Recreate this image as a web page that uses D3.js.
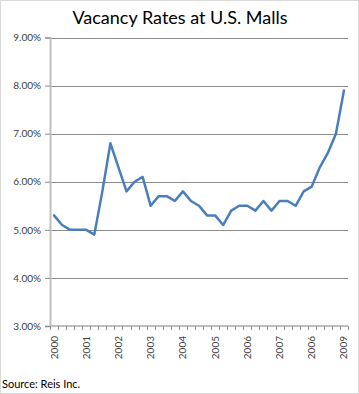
<!DOCTYPE html>
<html><head><meta charset="utf-8">
<script src="https://cdn.jsdelivr.net/npm/d3@7"></script>
<style>
html,body{margin:0;padding:0;background:#fff;}
svg{display:block;}
text{font-family:"Lato","Open Sans",sans-serif;}
</style></head>
<body>
<div id="chart"></div>
<script>
const title = "Vacancy Rates at U.S. Malls";
const source = "Source: Reis Inc.";
// quarterly, 2000 Q1 .. 2009 Q1
const quarters = ["2000Q1","2000Q2","2000Q3","2000Q4","2001Q1","2001Q2","2001Q3","2001Q4",
  "2002Q1","2002Q2","2002Q3","2002Q4","2003Q1","2003Q2","2003Q3","2003Q4",
  "2004Q1","2004Q2","2004Q3","2004Q4","2005Q1","2005Q2","2005Q3","2005Q4",
  "2006Q1","2006Q2","2006Q3","2006Q4","2007Q1","2007Q2","2007Q3","2007Q4",
  "2008Q1","2008Q2","2008Q3","2008Q4","2009Q1"];
const vacancy = [5.3,5.1,5.0,5.0,5.0,4.9,5.8,6.8,6.3,5.8,6.0,6.1,
  5.5,5.7,5.7,5.6,5.8,5.6,5.5,5.3,5.3,5.1,5.4,5.5,
  5.5,5.4,5.6,5.4,5.6,5.6,5.5,5.8,5.9,6.3,6.6,7.0,7.9];
// axis labels shown every 4th quarter (as printed in the original, incl. its "2006" typo)
const xLabels = ["2000","2001","2002","2003","2004","2005","2006","2007","2006","2009"];
const yTicks = [3,4,5,6,7,8,9];

const W = 359, H = 394;
const m = {left:50, right:11, top:37.5, bottom:68};
const svg = d3.select("#chart").append("svg").attr("width", W).attr("height", H);

svg.append("rect").attr("x",0.5).attr("y",0.5).attr("width",W-1).attr("height",H-1)
  .attr("fill","#fff").attr("stroke","#d9d9d9");

const x = d3.scaleBand().domain(quarters).range([m.left, W - m.right]).paddingInner(0).paddingOuter(0);
const y = d3.scaleLinear().domain([3, 9]).range([H - m.bottom, m.top]);

// gridlines
svg.append("g").selectAll("line").data(yTicks.filter(d => d > 3)).join("line")
  .attr("x1", m.left).attr("x2", W - m.right)
  .attr("y1", d => Math.round(y(d)) + 0.5).attr("y2", d => Math.round(y(d)) + 0.5)
  .attr("stroke", "#8c8c8c").attr("stroke-width", 1);

// y axis
const yAxis = d3.axisLeft(y).tickValues(yTicks).tickFormat(d => d.toFixed(2) + "%").tickSize(5).tickPadding(4);
const gy = svg.append("g").attr("transform", `translate(${m.left},0)`).call(yAxis);
gy.select(".domain").attr("stroke", "#bfbfbf").attr("stroke-width", 2);
gy.selectAll(".tick line").attr("stroke", "#8c8c8c");
gy.selectAll(".tick text").attr("font-size", "10px").attr("fill", "#404040")
  .attr("font-family", "Lato, 'Open Sans', sans-serif");

// x axis (category boundaries as ticks)
const bottomY = y(3);
const bounds = d3.range(quarters.length + 1).map(i => m.left + i * x.step());
svg.append("line").attr("x1", m.left).attr("x2", W - m.right)
  .attr("y1", bottomY).attr("y2", bottomY).attr("stroke", "#bfbfbf").attr("stroke-width", 2);
svg.append("g").selectAll("line").data(bounds).join("line")
  .attr("x1", d => Math.round(d) + 0.5).attr("x2", d => Math.round(d) + 0.5)
  .attr("y1", bottomY).attr("y2", bottomY + 4).attr("stroke", "#8c8c8c");

const xAxis = d3.axisBottom(x)
  .tickValues(quarters.filter((q, i) => i % 4 === 0))
  .tickFormat((q, i) => xLabels[i]).tickSize(0);
const gx = svg.append("g").attr("transform", `translate(0,${bottomY})`).call(xAxis);
gx.select(".domain").remove();
gx.selectAll(".tick text")
  .attr("transform", "rotate(-90)")
  .attr("x", -10).attr("y", 0).attr("dy", "0.35em")
  .attr("text-anchor", "end")
  .attr("font-size", "10px").attr("fill", "#404040")
  .attr("font-family", "Lato, 'Open Sans', sans-serif");

// line
const line = d3.line().x((d, i) => x(quarters[i]) + x.bandwidth() / 2).y(d => y(d));
svg.append("path").datum(vacancy).attr("d", line)
  .attr("fill", "none").attr("stroke", "#4a7ebb").attr("stroke-width", 2.5)
  .attr("stroke-linejoin", "round").attr("stroke-linecap", "round");

// title
svg.append("text").attr("x", 180).attr("y", 24).attr("text-anchor", "middle")
  .attr("font-size", "18px").attr("fill", "#000").text(title);

// source
svg.append("text").attr("x", 2).attr("y", 388).attr("font-size", "11px").attr("fill", "#000").text(source);
</script>
</body></html>
